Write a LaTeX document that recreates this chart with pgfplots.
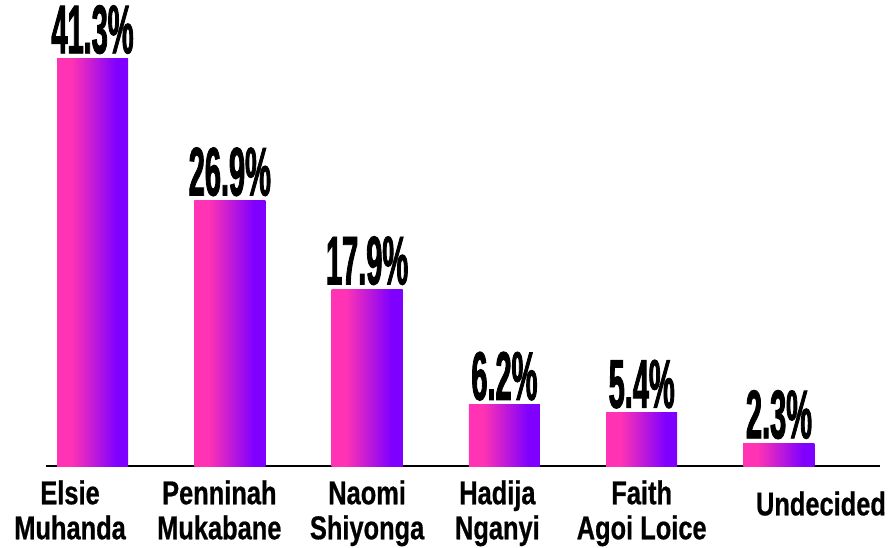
\documentclass[border=0pt]{standalone}
\usepackage{fontspec}
\usepackage{pgfplots}
\pgfplotsset{compat=1.18}
\setmainfont{Liberation Sans}
\newfontfamily\valfont[FakeStretch=0.42, FakeBold=1.2]{Liberation Sans}
\newfontfamily\catfont[FakeStretch=0.77, FakeBold=0.6]{Liberation Sans}
\definecolor{barpink}{HTML}{FF33B3}
\definecolor{barpurple}{HTML}{7F00FF}
% pink on the left, purple on the right (path maps to 25bp..75bp)
\pgfdeclarehorizontalshading{barshade}{100bp}{%
  color(0bp)=(barpink); color(35bp)=(barpink);
  color(67bp)=(barpurple); color(100bp)=(barpurple)}

\begin{document}
\begin{tikzpicture}
\fill[white] (-46pt,-81pt) rectangle (843pt,466pt);
\begin{axis}[
    scale only axis,
    width=834pt, height=466pt,
    xmin=-0.339, xmax=5.736,
    ymin=0, ymax=47.2,
    ybar, bar width=71pt, bar shift=0pt,
    hide y axis,
    axis x line=bottom,
    x axis line style={-, line width=1.3pt, black},
    xtick={0,1,2,3,4,5},
    xtick style={draw=none},
    xticklabels={
      {\hspace*{-45pt}Elsie\\\hspace*{-45pt}Muhanda},
      {\hspace*{-21pt}Penninah\\\hspace*{-21pt}Mukabane},
      {Naomi\\Shiyonga},
      {\hspace*{-14pt}Hadija\\\hspace*{-14pt}Nganyi},
      {Faith\\Agoi Loice},
      {\mbox{}\\\hspace*{84pt}Undecided}},
    xticklabel style={font=\catfont\bfseries\fontsize{33}{35}\selectfont,
      align=center, anchor=north, inner sep=0pt, yshift=-12pt},
    /pgf/number format/assume math mode=true,
    nodes near coords={\pgfmathprintnumber[fixed,precision=1,fixed zerofill]{\pgfplotspointmeta}\%},
    every node near coord/.append style={font=\valfont\bfseries\fontsize{69}{69}\selectfont,
      black, anchor=south, inner sep=0pt, yshift=4pt},
    every axis plot/.append style={draw=none, shading=barshade},
    clip=false,
]
\addplot coordinates {(0,41.3)};
\addplot coordinates {(1,26.9)};
\addplot coordinates {(2,17.9)};
\addplot coordinates {(3,6.2)};
\addplot coordinates {(4,5.4)};
\addplot coordinates {(5,2.3)};
\end{axis}
\pgfresetboundingbox
\path[use as bounding box] (-46pt,-81pt) rectangle (843pt,466pt);
\end{tikzpicture}
\end{document}
